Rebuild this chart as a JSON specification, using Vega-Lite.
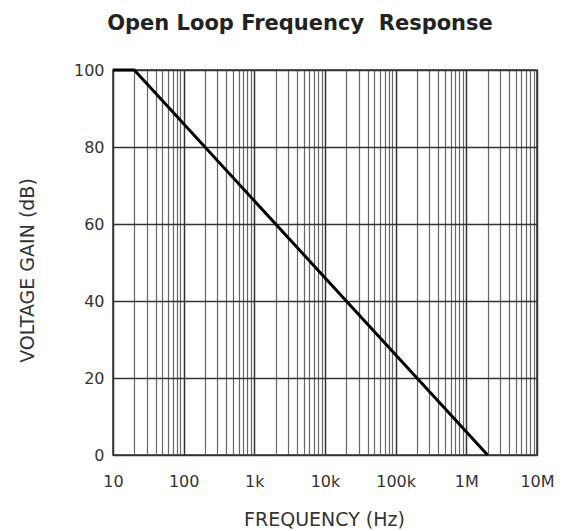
{
  "$schema": "https://vega.github.io/schema/vega-lite/v6.json",
  "autosize": {"type": "none"},
  "padding": {"left": 113, "top": 70, "right": 35, "bottom": 76},
  "width": 424,
  "height": 385,
  "background": "white",
  "title": {
    "text": "Open Loop Frequency\u00a0 Response",
    "font": "DejaVu Sans",
    "fontSize": 21,
    "fontWeight": "bold",
    "color": "#222",
    "anchor": "middle",
    "dx": -25,
    "offset": 28
  },
  "config": {
    "view": {"stroke": "#333", "strokeWidth": 1.5},
    "axis": {
      "labelFont": "DejaVu Sans",
      "labelFontSize": 16,
      "labelColor": "#333",
      "titleFont": "DejaVu Sans",
      "titleFontSize": 19,
      "titleFontWeight": "normal",
      "titleColor": "#333",
      "domain": false,
      "ticks": false
    }
  },
  "data": {
    "values": [
      {"frequency": 10, "gain": 100},
      {"frequency": 20, "gain": 100},
      {"frequency": 2000000, "gain": 0}
    ]
  },
  "mark": {"type": "line", "color": "#000", "strokeWidth": 3},
  "encoding": {
    "x": {
      "field": "frequency",
      "type": "quantitative",
      "scale": {"type": "log", "domain": [10, 10000000], "nice": false},
      "axis": {
        "title": "FREQUENCY (Hz)",
        "titleX": 211,
        "titleY": 64,
        "titleBaseline": "middle",
        "labelPadding": 18,
        "labelOverlap": false,
        "labelBound": false,
        "labelFlush": false,
        "values": [10,20,30,40,50,60,70,80,90,100,200,300,400,500,600,700,800,900,1000,2000,3000,4000,5000,6000,7000,8000,9000,10000,20000,30000,40000,50000,60000,70000,80000,90000,100000,200000,300000,400000,500000,600000,700000,800000,900000,1000000,2000000,3000000,4000000,5000000,6000000,7000000,8000000,9000000,10000000],
        "labelExpr": "datum.value == 10 ? '10' : datum.value == 100 ? '100' : datum.value == 1000 ? '1k' : datum.value == 10000 ? '10k' : datum.value == 100000 ? '100k' : datum.value == 1000000 ? '1M' : datum.value == 10000000 ? '10M' : ''",
        "grid": true,
        "gridColor": {
          "condition": {"test": "indexof([10,100,1000,10000,100000,1000000,10000000], datum.value) >= 0", "value": "#333"},
          "value": "#666"
        },
        "gridWidth": {
          "condition": {"test": "indexof([10,100,1000,10000,100000,1000000,10000000], datum.value) >= 0", "value": 1.5},
          "value": 1.2
        },
        "gridOpacity": 1
      }
    },
    "y": {
      "field": "gain",
      "type": "quantitative",
      "scale": {"domain": [0, 100], "nice": false, "zero": false},
      "axis": {
        "title": "VOLTAGE GAIN (dB)",
        "titleX": -86,
        "titleY": 200,
        "titleBaseline": "middle",
        "titleAngle": -90,
        "values": [0, 20, 40, 60, 80, 100],
        "labelPadding": 9,
        "grid": true,
        "gridColor": "#333",
        "gridWidth": 1.3,
        "gridOpacity": 1
      }
    }
  }
}
